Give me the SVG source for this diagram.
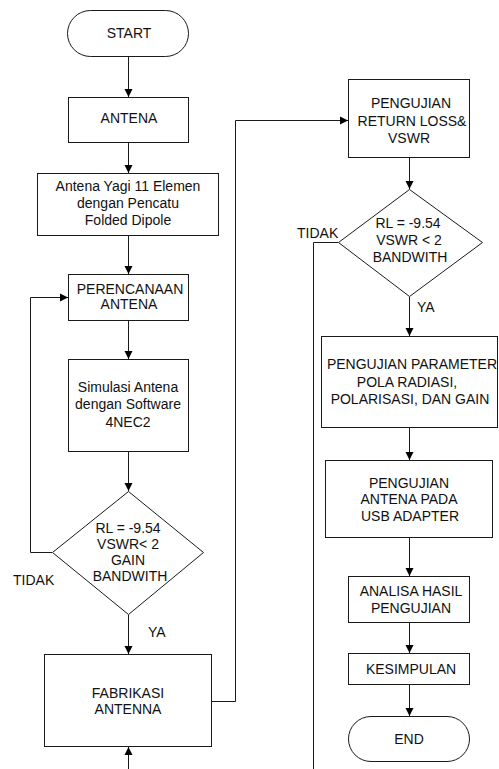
<svg xmlns="http://www.w3.org/2000/svg" width="499" height="769" viewBox="0 0 499 769">
<defs>
<style>
.s{fill:#fff;stroke:#1a1a1a;stroke-width:1}
.c{fill:none;stroke:#1a1a1a;stroke-width:1}
text{font-family:"Liberation Sans",Arial,sans-serif;font-size:14px;fill:#111;text-anchor:middle}
.l{text-anchor:start}
</style>
<marker id="a" viewBox="0 0 10 10" refX="10" refY="5" markerWidth="8" markerHeight="9" markerUnits="userSpaceOnUse" orient="auto">
<path d="M0,0 L10,5 L0,10 z" fill="#000"/>
</marker>
</defs>
<rect width="499" height="769" fill="#fff"/>
<g id="connectors" class="c" marker-end="url(#a)">
<path d="M128.5,57 V97"/>
<path d="M128.5,143 V173"/>
<path d="M128.5,236 V274"/>
<path d="M128.5,321 V359"/>
<path d="M128.5,452 V491"/>
<path d="M128.5,615 V654"/>
<path d="M52,552.5 H30.5 V297.5 H68"/>
<path d="M212,701.5 H235.5 V120.5 H348"/>
<path d="M409.5,158 V189"/>
<path d="M409.5,297 V336"/>
<path d="M338,242.5 H313.5 V769" marker-end="none"/>
<path d="M409.5,428 V460"/>
<path d="M409.5,538 V576"/>
<path d="M409.5,623 V653"/>
<path d="M409.5,685 V716"/>
<path d="M128.5,769 V747"/>
</g>
<g id="start"><rect class="s" x="67.5" y="10.5" width="121" height="46" rx="23"/><text x="129" y="38">START</text></g>
<g id="antena"><rect class="s" x="68.5" y="97.5" width="120" height="45"/><text x="129" y="123">ANTENA</text></g>
<g id="yagi"><rect class="s" x="37.5" y="173.5" width="181" height="62"/><text x="128" y="191">Antena Yagi 11 Elemen</text><text x="128" y="208">dengan Pencatu</text><text x="128" y="225">Folded Dipole</text></g>
<g id="perencanaan"><rect class="s" x="68.5" y="274.5" width="120" height="46"/><text x="130" y="294">PERENCANAAN</text><text x="129" y="309">ANTENA</text></g>
<g id="simulasi"><rect class="s" x="68.5" y="359.5" width="120" height="92"/><text x="128" y="392">Simulasi Antena</text><text x="128" y="409">dengan Software</text><text x="128" y="427">4NEC2</text></g>
<g id="decision1"><path class="s" d="M128.5,491.5 L203.5,552.5 L128.5,614.5 L52.5,552.5 Z"/><text x="128" y="533">RL = -9.54</text><text x="128" y="549">VSWR&lt; 2</text><text x="128" y="565">GAIN</text><text x="130" y="581">BANDWITH</text></g>
<g id="label-tidak1"><text class="l" x="13" y="585">TIDAK</text></g>
<g id="label-ya1"><text class="l" x="148" y="637">YA</text></g>
<g id="fabrikasi"><rect class="s" x="44.5" y="654.5" width="167" height="92"/><text x="128" y="698">FABRIKASI</text><text x="128" y="714">ANTENNA</text></g>
<g id="pengujian-return"><rect class="s" x="348.5" y="79.5" width="121" height="78"/><text x="411" y="108">PENGUJIAN</text><text x="412" y="126">RETURN LOSS&amp;</text><text x="409" y="143">VSWR</text></g>
<g id="decision2"><path class="s" d="M409.5,189.5 L482.5,242.5 L409.5,296.5 L338.5,242.5 Z"/><text x="408" y="228">RL = -9.54</text><text x="409" y="245">VSWR &lt; 2</text><text x="410" y="262">BANDWITH</text></g>
<g id="label-tidak2"><text class="l" x="297" y="238">TIDAK</text></g>
<g id="label-ya2"><text class="l" x="417" y="312">YA</text></g>
<g id="pengujian-parameter"><rect class="s" x="321.5" y="336.5" width="176" height="91"/><text x="412" y="369">PENGUJIAN PARAMETER</text><text x="407" y="387">POLA RADIASI,</text><text x="410" y="404">POLARISASI, DAN GAIN</text></g>
<g id="pengujian-usb"><rect class="s" x="325.5" y="460.5" width="167" height="77"/><text x="409" y="488">PENGUJIAN</text><text x="409" y="504">ANTENA PADA</text><text x="410" y="521">USB ADAPTER</text></g>
<g id="analisa"><rect class="s" x="348.5" y="576.5" width="121" height="46"/><text x="411" y="596">ANALISA HASIL</text><text x="411" y="613">PENGUJIAN</text></g>
<g id="kesimpulan"><rect class="s" x="348.5" y="653.5" width="121" height="31"/><text x="411" y="674">KESIMPULAN</text></g>
<g id="end"><rect class="s" x="348.5" y="716.5" width="121" height="45" rx="22.5"/><text x="409" y="744">END</text></g>
</svg>
